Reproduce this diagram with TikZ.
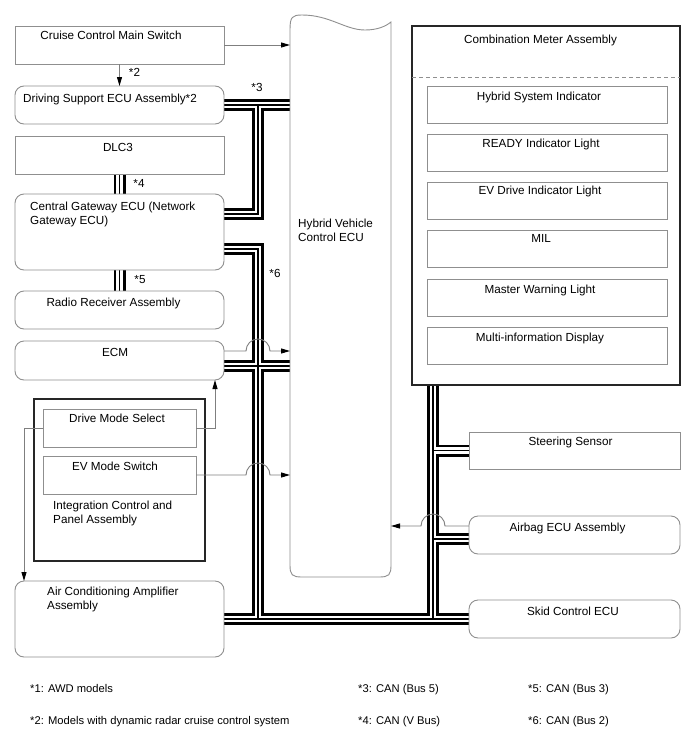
\documentclass[tikz,border=0pt]{standalone}
\usepackage{fontspec}
\setmainfont{Liberation Sans}
\usetikzlibrary{arrows.meta,calc,backgrounds}
\definecolor{boxgray}{HTML}{8F8F8F}
\definecolor{conngray}{HTML}{7F7F7F}
\definecolor{darkline}{HTML}{262626}
\begin{document}
\begin{tikzpicture}[x=1pt,y=-1pt,
  every node/.style={font=\fontsize{11.7}{14}\selectfont},
  blk/.style={draw=boxgray, line width=0.9pt, anchor=north west, inner sep=0pt, outer sep=0pt},
  rblk/.style={blk, rounded corners=9pt},
  frm/.style={draw=darkline, line width=1.1pt, anchor=north west, inner sep=0pt, outer sep=0pt},
  conn/.style={draw=conngray, line width=0.9pt},
  arr/.style={conn, -{Triangle[length=9pt,width=5pt,color=black]}},
  tc/.style={inner sep=0pt, anchor=base},
  tl/.style={inner sep=0pt, anchor=base west},
  ml/.style={inner sep=0pt, anchor=north west, align=left},
  ft/.style={inner sep=0pt, anchor=base west, font=\fontsize{11.2}{13}\selectfont},
  wide/.style={minimum width=209pt},
  narrow/.style={minimum width=153pt},
  right/.style={minimum width=211pt},
  inner/.style={blk, minimum width=240pt, minimum height=37pt}
]
\useasboundingbox (0,0) rectangle (688,755);

% ---------- left column ----------
\node[blk, wide, minimum height=38pt] (cc) at (15,26) {};
\node[tc] (cc-t) at (111,39.5) {Cruise Control Main Switch};
\node[rblk, wide, minimum height=38pt] (drv) at (15,86) {};
\node[tl] (drv-t) at (23,102.5) {Driving Support ECU Assembly*2};
\node[blk, wide, minimum height=38pt] (dlc) at (15,136) {};
\node[tc] (dlc-t) at (118,151) {DLC3};
\node[rblk, wide, minimum height=76pt] (gw) at (15,194) {};
\node[ml] (gw-t) at (30,201.7) {Central Gateway ECU (Network\\Gateway ECU)};
\node[rblk, wide, minimum height=38pt] (radio) at (15,291) {};
\node[tc] (radio-t) at (113.5,306) {Radio Receiver Assembly};
\node[rblk, wide, minimum height=39pt] (ecm) at (15,341) {};
\node[tc] (ecm-t) at (115,356) {ECM};

\node[frm, minimum width=171pt, minimum height=162pt] (icp) at (34,399) {};
\node[blk, narrow, minimum height=38pt] (dms) at (43,409) {};
\node[tc] (dms-t) at (117,422) {Drive Mode Select};
\node[blk, narrow, minimum height=38pt] (ev) at (43,456) {};
\node[tc] (ev-t) at (115,470.5) {EV Mode Switch};
\node[ml] (icp-t) at (53,500.7) {Integration Control and\\Panel Assembly};

\node[rblk, wide, minimum height=76pt] (ac) at (15,581) {};
\node[ml] (ac-t) at (47,586.7) {Air Conditioning Amplifier\\Assembly};

% ---------- hybrid vehicle control ECU ----------
\node[inner sep=0pt, outer sep=0pt, anchor=north west, minimum width=101pt, minimum height=562pt] (hv) at (290,15) {};
\draw[draw=boxgray, line width=0.9pt]
  (290,30) .. controls (290,17) and (292,15) .. (302,15)
  .. controls (330,15) and (345,30) .. (365,30)
  .. controls (378,30) and (386,26) .. (391,22)
  -- (391,565) .. controls (391,575) and (389,577) .. (379,577)
  -- (302,577) .. controls (292,577) and (290,575) .. (290,565) -- cycle;
\node[ml] (hv-t) at (298,218.7) {Hybrid Vehicle\\Control ECU};

% ---------- combination meter ----------
\node[frm, minimum width=268pt, minimum height=359pt] (cm) at (412,26) {};
\node[tc] (cm-t) at (540.5,43.5) {Combination Meter Assembly};
\draw[draw=boxgray, line width=0.8pt, dash pattern=on 4pt off 3pt] (cm.west |- 0,77) coordinate (dashl) -- (dashl -| cm.east);
\node[inner] (hsi) at (427,86) {};
\node[tc] (hsi-t) at (539,100) {Hybrid System Indicator};
\node[inner] (rdy) at (427,134) {};
\node[tc] (rdy-t) at (541,147.5) {READY Indicator Light};
\node[inner] (evd) at (427,182) {};
\node[tc] (evd-t) at (540,194.5) {EV Drive Indicator Light};
\node[inner] (mil) at (427,230) {};
\node[tc] (mil-t) at (541,242.5) {MIL};
\node[inner] (mwl) at (427,279) {};
\node[tc] (mwl-t) at (540,293) {Master Warning Light};
\node[inner] (mid) at (427,327) {};
\node[tc] (mid-t) at (540,341) {Multi-information Display};

% ---------- right column ----------
\node[blk, right, minimum height=37pt] (ss) at (469,432) {};
\node[tc] (ss-t) at (570.5,445) {Steering Sensor};
\node[rblk, right, minimum height=38pt] (ab) at (469,516) {};
\node[tc] (ab-t) at (567.5,531) {Airbag ECU Assembly};
\node[rblk, right, minimum height=38pt] (skid) at (469,600) {};
\node[tc] (skid-t) at (573,615) {Skid Control ECU};

% ---------- bus labels ----------
\node[tc] (l2) at (134.5,76.5) {*2};
\node[tc] (l3) at (257,91.5) {*3};
\node[tc] (l4) at (139,187) {*4};
\node[tc] (l5) at (140,283) {*5};
\node[tc] (l6) at (275,277) {*6};

% ---------- helper coordinates ----------
\coordinate (bxc) at (258,0);
\coordinate (rbx) at (433,0);
\coordinate (dmx) at (215,0);
\coordinate (acx) at (24,0);
\coordinate (gwA) at ($(gw.north east)+(0,20)$);
\coordinate (gwB) at ($(gw.north east)+(0,55)$);
\coordinate (ecmB) at ($(ecm.north east)+(0,25)$);
\coordinate (ecmA) at ($(ecm.north east)+(0,10)$);
\coordinate (abB) at ($(ab.north west)+(0,23)$);
\coordinate (abA) at ($(ab.north west)+(0,10)$);

% ---------- CAN buses ----------
\def\busnet{(drv.east) -- (drv.east -| hv.west)
  (bxc |- drv.east) -- (bxc |- gwA) -- (gwA)
  (dlc.south) -- (gw.north)
  (gw.south) -- (radio.north)
  (gwB) -- (bxc |- gwB) -- (bxc |- ac.east)
  (ac.east) -- (skid.west)
  (ecmB) -- (ecmB -| hv.west)
  (rbx |- cm.south) -- (rbx |- skid.west)
  (rbx |- ss.west) -- (ss.west)
  (rbx |- abB) -- (abB)}
\begin{pgfonlayer}{background}
  \draw[line width=12pt, black] \busnet;
  \draw[line width=6.4pt, white] \busnet;
  \draw[line width=1.4pt, black] \busnet;
\end{pgfonlayer}

% ---------- signal connectors ----------
\draw[arr] (cc.east) -- (cc.east -| hv.west);
\draw[arr] (cc.south) -- (drv.north);
\draw[arr] (ecmA) -- ($(bxc |- ecmA)+(-12,0)$) arc[start angle=180, end angle=0, radius=12pt] -- (ecmA -| hv.west);
\draw[arr] (ev.east) -- ($(bxc |- ev.east)+(-12,0)$) arc[start angle=180, end angle=0, radius=12pt] -- (ev.east -| hv.west);
\draw[arr] (dms.east) -- (dmx |- dms.east) -- (dmx |- ecm.south);
\draw[arr] (dms.west) -- (acx |- dms.west) -- (acx |- ac.north);
\draw[arr] (abA) -- ($(rbx |- abA)+(12,0)$) arc[start angle=0, end angle=180, radius=12pt] -- (abA -| hv.east);

% ---------- footnotes ----------
\node[ft] (f1) at (30,692) {*1: AWD models};
\node[ft] (f2) at (30,724) {*2: Models with dynamic radar cruise control system};
\node[ft] (f3) at (358,692) {*3: CAN (Bus 5)};
\node[ft] (f4) at (358,724) {*4: CAN (V Bus)};
\node[ft] (f5) at (528,692) {*5: CAN (Bus 3)};
\node[ft] (f6) at (528,724) {*6: CAN (Bus 2)};
\end{tikzpicture}
\end{document}
